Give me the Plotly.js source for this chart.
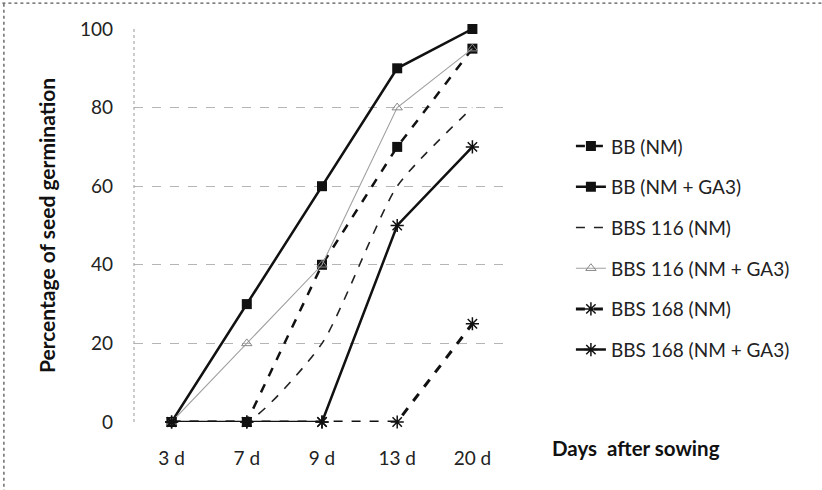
<!DOCTYPE html>
<html>
<head>
<meta charset="utf-8">
<script src="https://cdn.plot.ly/plotly-3.0.1.min.js"></script>
<style>
html,body{margin:0;padding:0;background:#fff;}
#chart{width:822px;height:490px;}
</style>
</head>
<body>
<div id="chart"></div>
<script>
const categories = ['3 d', '7 d', '9 d', '13 d', '20 d'];
const seriesNames = ['BB (NM)', 'BB (NM + GA3)', 'BBS 116 (NM)', 'BBS 116 (NM + GA3)', 'BBS 168 (NM)', 'BBS 168 (NM + GA3)'];
const bbNM = [0, 0, 40, 70, 95];
const bbNMGA3 = [0, 30, 60, 90, 100];
const bbs116NM = [0, 0, 20, 60, 80];
const bbs116NMGA3 = [0, 20, 40, 80, 95];
const bbs168NM = [0, 0, 0, 0, 25];
const bbs168NMGA3 = [0, 0, 0, 50, 70];
const yTicks = [0, 20, 40, 60, 80, 100];

const FONT = "Lato, 'Open Sans', sans-serif";

const traces = [
  {x: categories, y: bbNM, name: seriesNames[0], mode: 'lines+markers',
   line: {color: '#111', width: 2.5, dash: 'dash'},
   marker: {symbol: 'square', size: 10, color: '#111'}},
  {x: categories, y: bbNMGA3, name: seriesNames[1], mode: 'lines+markers',
   line: {color: '#111', width: 2.5},
   marker: {symbol: 'square', size: 10, color: '#111'}},
  {x: categories, y: bbs116NM, name: seriesNames[2], mode: 'lines',
   line: {color: '#222', width: 1.6, dash: 'dash', shape: 'spline', smoothing: 0.6}},
  {x: categories, y: bbs116NMGA3, name: seriesNames[3], mode: 'lines+markers',
   line: {color: '#a0a0a0', width: 1.1},
   marker: {symbol: 'triangle-up-open', size: 9, color: '#888', line: {width: 1, color: '#888'}}},
  {x: categories, y: bbs168NM, name: seriesNames[4], mode: 'lines+markers',
   line: {color: '#111', width: 3, dash: 'dash'},
   marker: {symbol: 'asterisk-open', size: 11, color: '#111', line: {width: 1.5, color: '#111'}}},
  {x: categories, y: bbs168NMGA3, name: seriesNames[5], mode: 'lines+markers',
   line: {color: '#111', width: 2.5},
   marker: {symbol: 'asterisk-open', size: 11, color: '#111', line: {width: 1.5, color: '#111'}}}
];
traces.forEach((t, i) => { t.legendgroup = 'g' + i; t.cliponaxis = false; });

const layout = {
  width: 822, height: 490,
  margin: {l: 134, r: 312, t: 29, b: 68},
  paper_bgcolor: '#fff', plot_bgcolor: '#fff',
  font: {family: FONT, size: 19, color: '#222'},
  showlegend: true,
  legend: {x: 1.162, xanchor: 'left', y: 0.75, yanchor: 'top',
           font: {family: FONT, size: 19, color: '#222'},
           tracegroupgap: 13, bgcolor: 'rgba(0,0,0,0)'},
  xaxis: {type: 'category', categoryorder: 'array', categoryarray: categories,
          range: [-0.5, 4.5], showgrid: false, zeroline: false, showline: false,
          ticks: '', ticklabelstandoff: 23,
          tickfont: {family: FONT, size: 19, color: '#222'}},
  yaxis: {range: [0, 100], tickvals: yTicks, showgrid: true, gridcolor: '#b5b5b5',
          griddash: 'dash', gridwidth: 1, zeroline: false, showline: false, ticks: '',
          ticklabelstandoff: 20,
          tickfont: {family: FONT, size: 19, color: '#222'},
          title: {text: '<b>Percentage of seed germination</b>', standoff: 18,
                  font: {family: FONT, size: 21, color: '#111'}}},
  shapes: [
    {type: 'line', xref: 'paper', yref: 'paper', x0: 0, x1: 0, y0: 0, y1: 1,
     line: {color: '#999', width: 1, dash: 'dot'}},
    {type: 'line', xref: 'paper', yref: 'paper', x0: -0.35, x1: 1.83, y0: 1.066, y1: 1.066,
     line: {color: '#555', width: 1.3, dash: 'dot'}},
    {type: 'line', xref: 'paper', yref: 'paper', x0: -0.346, x1: -0.346, y0: -0.18, y1: 1.066,
     line: {color: '#555', width: 1.3, dash: 'dot'}}
  ],
  annotations: [
    {text: '<b>Days  after sowing</b>', xref: 'paper', yref: 'paper',
     x: 1.107, y: -0.066, xanchor: 'left', yanchor: 'middle', showarrow: false,
     font: {family: FONT, size: 20.5, color: '#111'}}
  ]
};

Plotly.newPlot('chart', traces, layout, {displayModeBar: false, staticPlot: true});
</script>
</body>
</html>
